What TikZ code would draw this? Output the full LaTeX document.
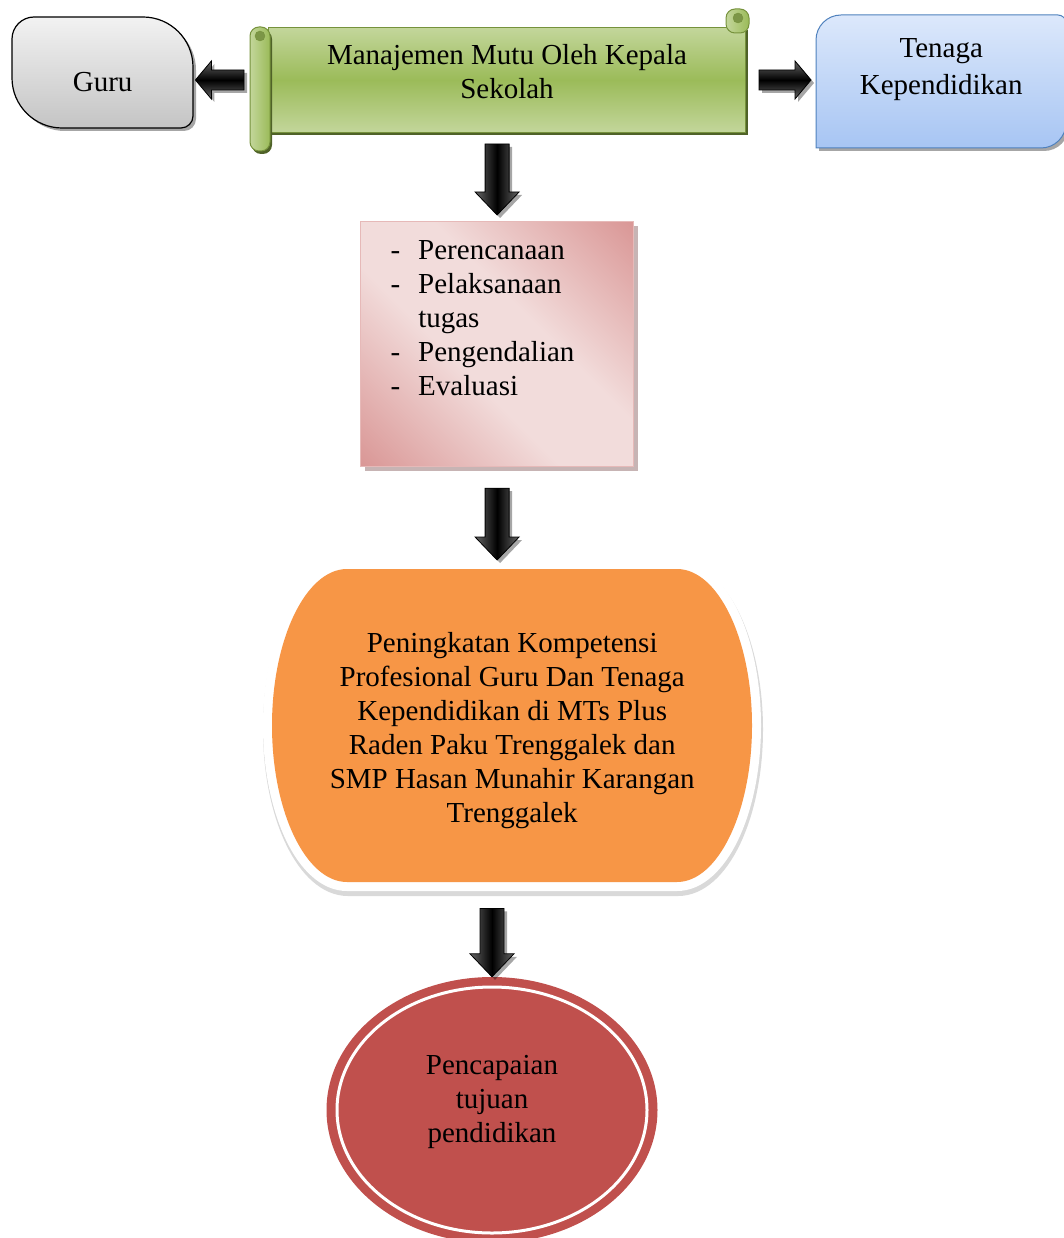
\documentclass[tikz,border=0pt]{standalone}
\usepackage{fontspec}
\setmainfont{Liberation Serif}
\usetikzlibrary{calc,positioning,shapes.geometric,shadows,backgrounds}

\definecolor{abuatas}{HTML}{F2F2F2}
\definecolor{abubawah}{HTML}{C4C4C4}
\definecolor{hijaumuda}{HTML}{C3D69B}
\definecolor{hijau}{HTML}{9BBB59}
\definecolor{hijaugaris}{HTML}{76923C}
\definecolor{hijautua}{HTML}{4F6228}
\definecolor{biruatas}{HTML}{DCE8FB}
\definecolor{birubawah}{HTML}{A7C5F3}
\definecolor{birugaris}{HTML}{4F81BD}
\definecolor{merahmuda}{HTML}{F2DCDB}
\definecolor{merahmudatua}{HTML}{D99594}
\definecolor{merahmudagaris}{HTML}{E6B9B8}
\definecolor{oranye}{HTML}{F79646}
\definecolor{merah}{HTML}{C0504D}

\pgfdeclarehorizontalshading{pinkdiag}{100bp}{color(0bp)=(merahmudatua); color(14bp)=(merahmudatua); color(42bp)=(merahmuda); color(58bp)=(merahmuda); color(86bp)=(merahmudatua); color(100bp)=(merahmudatua)}

\newcommand{\teks}{\fontsize{29pt}{34pt}\selectfont}

\begin{document}
\begin{tikzpicture}[x=1pt, y=-1pt,
        teks/.style={inner sep=0pt, font=\teks, anchor=north west},
        bayang/.style={drop shadow={shadow xshift=3pt, shadow yshift=-3pt, fill=black, opacity=.35}},
        bingkaiguru/.style={draw=black, line width=1.2pt, top color=abuatas, bottom color=abubawah, bayang},
        bingkaibiru/.style={draw=birugaris, line width=1pt, top color=biruatas, bottom color=birubawah, bayang},
        gulungan/.style={teks, draw=hijaugaris, line width=1pt, top color=hijaumuda, bottom color=hijaumuda, middle color=hijau, drop shadow={shadow xshift=2pt, shadow yshift=-3pt, fill=hijautua, opacity=1}},
        gulungtepi/.style={draw=hijaugaris, line width=1pt, left color=hijaumuda, right color=hijau, rounded corners=9pt},
        daftar/.style={teks, draw=merahmudagaris, line width=1.2pt, shade, shading=pinkdiag, shading angle=45, drop shadow={shadow xshift=4pt, shadow yshift=-4pt, fill=merahmudatua!60!black, opacity=.45}},
        bingkaioranye/.style={preaction={draw=black!15, line width=20pt, transform canvas={xshift=1pt, yshift=-4pt}}, preaction={draw=white, line width=18pt}, fill=oranye},
        lingkaran/.style={ellipse, fill=merah, inner sep=0pt, font=\teks, minimum width=331pt, minimum height=266pt},
        blokpanah/.style n args={3}{to path={
            ($(\tikztostart)!#1!90:(\tikztotarget)$)
            -- ($(\tikztotarget)!#3!(\tikztostart)!#1!90:(\tikztotarget)$)
            -- ($(\tikztotarget)!#3!(\tikztostart)!#2!90:(\tikztotarget)$)
            -- (\tikztotarget)
            -- ($(\tikztotarget)!#3!(\tikztostart)!#2!-90:(\tikztotarget)$)
            -- ($(\tikztotarget)!#3!(\tikztostart)!#1!-90:(\tikztotarget)$)
            -- ($(\tikztostart)!#1!-90:(\tikztotarget)$) -- cycle}},
        panahbawah/.style={blokpanah={12pt}{22pt}{23pt}, draw=black, line width=.8pt, left color=black!60, right color=black!60, middle color=black, bayang},
        panahsamping/.style={blokpanah={10pt}{19pt}{16pt}, draw=black, line width=.8pt, top color=black!60, bottom color=black!60, middle color=black, bayang}
    ]
    \useasboundingbox (0,0) rectangle (1063,1238);

    \node[teks, minimum width=181pt, text height=74pt, text depth=37pt] (guru) at (12,17) {Guru};
    \node[gulungan, minimum width=477pt, text height=37pt, text depth=68pt] (manajemen) at (268,27)
        {\begin{tabular}[t]{@{}c@{}}Manajemen Mutu Oleh Kepala\\Sekolah\end{tabular}};
    \node[teks, font=\fontsize{29pt}{37pt}\selectfont, minimum width=250pt, text height=42pt, text depth=91pt] (tenaga) at (816,15)
        {\begin{tabular}[t]{@{}c@{}}Tenaga\\Kependidikan\end{tabular}};
    \node[daftar, text height=38pt, text depth=207pt] (fungsi) at (360,221)
        {\makebox[273pt][l]{\hspace{30pt}\begin{tabular}[t]{@{}l@{\hspace{18pt}}l@{}}
            -&Perencanaan\\-&Pelaksanaan\\&tugas\\-&Pengendalian\\-&Evaluasi\end{tabular}}};
    \node[teks, minimum width=480pt, text height=83pt, text depth=230pt] (kompetensi) at (272,569)
        {\begin{tabular}[t]{@{}c@{}}Peningkatan Kompetensi\\Profesional Guru Dan Tenaga\\Kependidikan di MTs Plus\\Raden Paku Trenggalek dan\\SMP Hasan Munahir Karangan\\Trenggalek\end{tabular}};
    \node[lingkaran, text height=36pt, text depth=108pt] (tujuan) at (492,1110)
        {\begin{tabular}[t]{@{}c@{}}Pencapaian\\tujuan\\pendidikan\end{tabular}};
    \draw[white, line width=3pt] (tujuan.center) ellipse [x radius=155pt, y radius=123pt];

    \begin{scope}[on background layer]
        \draw[bingkaiguru, shift={(guru.north west)}] (0,22) -- (0,61) .. controls (0,88.5) and (22.5,111) .. (50,111)
            -- (169,111) .. controls (175.6,111) and (181,105.6) .. (181,99)
            -- (181,50) .. controls (181,22.4) and (158.6,0) .. (131,0)
            -- (22,0) .. controls (9.9,0) and (0,9.9) .. (0,22) -- cycle;
        \draw[bingkaibiru, shift={(tenaga.north west)}] (0,133) -- (0,25) .. controls (0,11.2) and (11.2,0) .. (25,0)
            -- (242,0) .. controls (246.4,0) and (250,3.6) .. (250,8)
            -- (250,108) .. controls (250,121.8) and (238.8,133) .. (225,133) -- cycle;
        \path[bingkaioranye, shift={(kompetensi.north west)}] (75,0) -- (405,0) .. controls (446,0) and (480,70) .. (480,156.5)
            .. controls (480,243) and (446,313) .. (405,313) -- (75,313)
            .. controls (34,313) and (0,243) .. (0,156.5) .. controls (0,70) and (34,0) .. (75,0) -- cycle;
    \end{scope}

    \draw[gulungtepi, drop shadow={shadow xshift=2pt, shadow yshift=-3pt, fill=hijautua, opacity=1}]
        ([xshift=-18pt]manajemen.north west) rectangle ([xshift=2pt,yshift=-18pt]manajemen.south west);
    \filldraw[fill=hijau!80!black, draw=hijaugaris] ([xshift=-8pt,yshift=-9pt]manajemen.north west) circle (5pt);
    \draw[gulungtepi] ([xshift=-20pt,yshift=18pt]manajemen.north east) rectangle ([xshift=3pt,yshift=-6pt]manajemen.north east);
    \filldraw[fill=hijau!80!black, draw=hijaugaris] ([xshift=-8pt,yshift=9pt]manajemen.north east) circle (5pt);

    \draw[panahsamping] ([xshift=-24pt]manajemen.west) to ([xshift=2pt]guru.east |- manajemen.west);
    \draw[panahsamping] ([xshift=13pt]manajemen.east) to ([xshift=-5pt]tenaga.west |- manajemen.east);
    \draw[panahbawah] ([yshift=-11pt]fungsi.north |- manajemen.south) to ([yshift=6pt]fungsi.north);
    \draw[panahbawah] ([yshift=-21pt]fungsi.south) to ([yshift=9pt]fungsi.south |- kompetensi.north);
    \draw[panahbawah] ([yshift=-26pt]tujuan.north |- kompetensi.south) to (tujuan.north);
\end{tikzpicture}
\end{document}
